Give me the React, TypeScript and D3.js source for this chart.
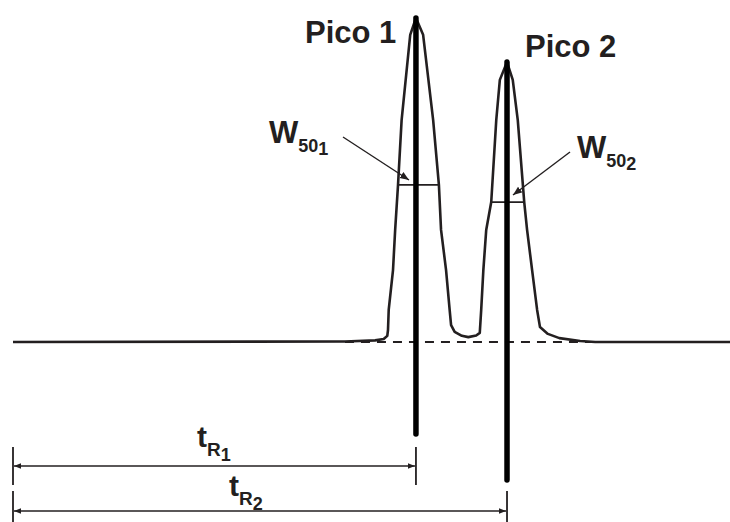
import React from "react";
import * as d3 from "d3";

// chromatogram trace: time (min) vs signal (% of peak 1)
const traceTime = [0, 4.63, 5.05, 5.17, 5.22, 5.23, 5.24, 5.3, 5.33, 5.37, 5.42, 5.54, 5.62, 5.72, 5.86, 5.94, 5.97, 6.04, 6.09, 6.11, 6.16, 6.26, 6.35, 6.46, 6.51, 6.53, 6.56, 6.6, 6.67, 6.74, 6.79, 6.89, 6.97, 7.04, 7.13, 7.17, 7.24, 7.31, 7.35, 7.46, 7.62, 7.91, 8.12, 10];
const traceSignal = [0, 0.15, 0.5, 0.9, 1.9, 3.7, 9.9, 22.2, 34.6, 48.5, 68.5, 94.8, 100, 94.8, 68.5, 48.5, 34.6, 22.2, 9.9, 5.2, 3.1, 1.9, 1.5, 2.0, 2.8, 9.9, 22.2, 34.6, 43.2, 68.5, 80.9, 86.4, 80.9, 68.5, 43.2, 34.6, 22.2, 9.9, 4.6, 2.5, 1.2, 0.3, 0, 0];

// peaks
const peakNames = ["Pico 1", "Pico 2"];
const retentionTimes = [5.62, 6.89];
const peakHeights = [100, 86.4];
const halfHeights = [48.5, 43.2];
const halfStart = [5.37, 6.67];
const halfEnd = [5.94, 7.13];
const dashedBaseline = [4.63, 8.12];

const width = 730;
const height = 522;

export default function App() {
  const x = d3.scaleLinear().domain([0, 10]).range([13, 730]);
  const y = d3.scaleLinear().domain([0, 100]).range([342, 18]);

  const line = d3.line<number>()
    .x((d, i) => x(traceTime[i]))
    .y(d => y(d));

  const ink = "#231f20";
  const font = "'Liberation Sans', Arial, sans-serif";
  const base = y(0);

  // layout offsets below the baseline (px)
  const stemEnd = [92, 138];
  const dimY = [124, 169];
  const tickTop = [105, 149];
  const tickBottom = [143, 180];

  const labelPos = [
    { x: 305, y: 43 },
    { x: 525, y: 57 },
  ];
  const wLabel = [
    { x: 269, y: 143, ax: 343, ay: 137, bx: 409, by: 180 },
    { x: 577, y: 158, ax: 570, ay: 152, bx: 513, by: 195 },
  ];
  const tLabel = [
    { x: 197, y: 447 },
    { x: 229, y: 496 },
  ];

  return (
    <svg width={width} height={height} style={{ position: "absolute", left: 0, top: 0, background: "#fff" }}>
      <defs>
        <marker id="ah" viewBox="0 0 10 10" refX="10" refY="5" markerWidth="7" markerHeight="7" orient="auto-start-reverse" markerUnits="userSpaceOnUse">
          <path d="M0,1 L10,5 L0,9 z" fill={ink} />
        </marker>
        <marker id="ah2" viewBox="0 0 10 10" refX="10" refY="5" markerWidth="9" markerHeight="9" orient="auto" markerUnits="userSpaceOnUse">
          <path d="M0,1 L10,5 L0,9 z" fill={ink} />
        </marker>
      </defs>

      {/* dashed true baseline */}
      <line x1={x(dashedBaseline[0])} x2={x(dashedBaseline[1])} y1={base} y2={base}
        stroke={ink} strokeWidth={2} strokeDasharray="9,7" />

      {/* trace */}
      <path d={line(traceSignal) || ""} fill="none" stroke={ink} strokeWidth={2.6} strokeLinejoin="round" />

      {retentionTimes.map((t, i) => (
        <g key={i}>
          {/* half-height width */}
          <line x1={x(halfStart[i])} x2={x(halfEnd[i])} y1={y(halfHeights[i])} y2={y(halfHeights[i])}
            stroke={ink} strokeWidth={1.8} />
          {/* retention stem */}
          <line x1={x(t)} x2={x(t)} y1={y(peakHeights[i])} y2={base + stemEnd[i]}
            stroke="#000" strokeWidth={5.5} strokeLinecap="round" />
          {/* retention dimension */}
          <line x1={x(0)} x2={x(0)} y1={base + tickTop[i]} y2={base + tickBottom[i]} stroke={ink} strokeWidth={1.8} />
          <line x1={x(t)} x2={x(t)} y1={base + tickTop[i]} y2={base + tickBottom[i]} stroke={ink} strokeWidth={1.8} />
          <line x1={x(0) + 1} x2={x(t) - 1} y1={base + dimY[i]} y2={base + dimY[i]} stroke={ink} strokeWidth={1.3}
            markerStart="url(#ah)" markerEnd="url(#ah)" />
          {/* peak label */}
          <text x={labelPos[i].x} y={labelPos[i].y} fontFamily={font} fontWeight="bold" fontSize={31} fill={ink}>
            {peakNames[i]}
          </text>
          {/* W50 label and arrow */}
          <line x1={wLabel[i].ax} y1={wLabel[i].ay} x2={wLabel[i].bx} y2={wLabel[i].by} stroke={ink} strokeWidth={1.4}
            markerEnd="url(#ah2)" />
          <text x={wLabel[i].x} y={wLabel[i].y} fontFamily={font} fontWeight="bold" fontSize={31} fill={ink}>
            W<tspan dy={9} fontSize={18}>50</tspan><tspan dy={3} fontSize={18}>{i + 1}</tspan>
          </text>
          {/* tR label */}
          <text x={tLabel[i].x} y={tLabel[i].y} fontFamily={font} fontWeight="bold" fontSize={30} fill={ink}>
            t<tspan dy={9} fontSize={19}>R</tspan><tspan dy={5} fontSize={18}>{i + 1}</tspan>
          </text>
        </g>
      ))}
    </svg>
  );
}
